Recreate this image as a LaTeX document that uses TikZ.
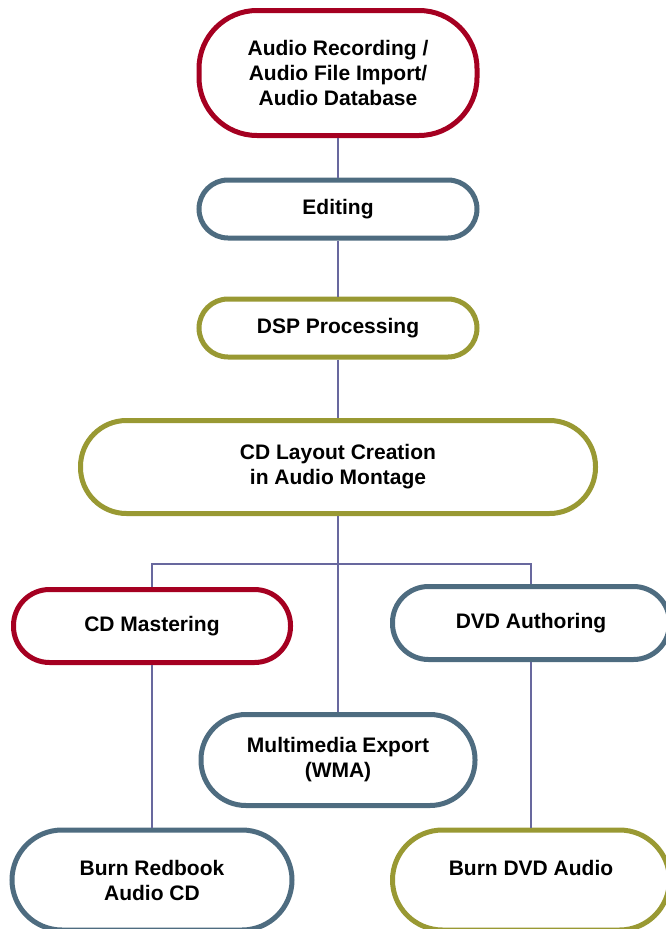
\documentclass[tikz,border=0pt]{standalone}
\usepackage{fontspec}
\setmainfont{Liberation Sans}
\usetikzlibrary{positioning}
\definecolor{redbox}{RGB}{165,0,33}
\definecolor{slatebox}{RGB}{78,108,128}
\definecolor{olivebox}{RGB}{153,153,51}
\definecolor{linkcol}{RGB}{104,104,158}
\tikzset{
  stage/.style={draw, line width=5pt, fill=white, align=center, inner sep=0pt,
    font=\fontsize{21}{25}\selectfont\bfseries},
  link/.style={draw=linkcol, line width=1.3pt}
}
\begin{document}
\begin{tikzpicture}[x=1pt, y=-1pt]
			\useasboundingbox (0,0) rectangle (666,929);
			\clip (0,0) rectangle (666,929);
			\node[stage, draw=redbox, minimum width=278pt, minimum height=125pt, rounded corners=58pt] (rec) at (338,73) {Audio Recording /\\Audio File Import/\\Audio Database};
			\node[stage, draw=slatebox, minimum width=278pt, minimum height=58pt, rounded corners=29pt] (edit) at (338,209) {Editing};
			\node[stage, draw=olivebox, minimum width=278pt, minimum height=58pt, rounded corners=29pt] (dsp) at (338,328) {DSP Processing};
			\node[stage, draw=olivebox, minimum width=515pt, minimum height=93pt, rounded corners=46pt] (cd) at (338,467) {CD Layout Creation\\in Audio Montage};
			\node[stage, draw=redbox, minimum width=277pt, minimum height=73pt, rounded corners=36pt] (master) at (152,626) {CD Mastering};
			\node[stage, draw=slatebox, minimum width=277pt, minimum height=73pt, rounded corners=36pt] (dvd) at (531,623) {DVD Authoring};
			\node[stage, draw=slatebox, minimum width=274pt, minimum height=91pt, rounded corners=45pt] (wma) at (338,760) {Multimedia Export\\(WMA)};
			\node[stage, draw=slatebox, minimum width=280pt, minimum height=100pt, rounded corners=50pt] (redbook) at (152,880) {Burn Redbook\\Audio CD};
			\node[stage, draw=olivebox, minimum width=277pt, minimum height=100pt, rounded corners=50pt] (dvdaudio) at (531,880) {Burn DVD Audio\\ ~};
			\coordinate (split) at (338,564);
			\path[link] (rec) -- (edit);
			\path[link] (edit) -- (dsp);
			\path[link] (dsp) -- (cd);
			\path[link] (cd) -- (split);
			\path[link] (split) -| (master);
			\path[link] (split) -| (dvd);
			\path[link] (split) -- (wma);
			\path[link] (master) -- (redbook);
			\path[link] (dvd) -- (dvdaudio);
		\end{tikzpicture}
\end{document}
